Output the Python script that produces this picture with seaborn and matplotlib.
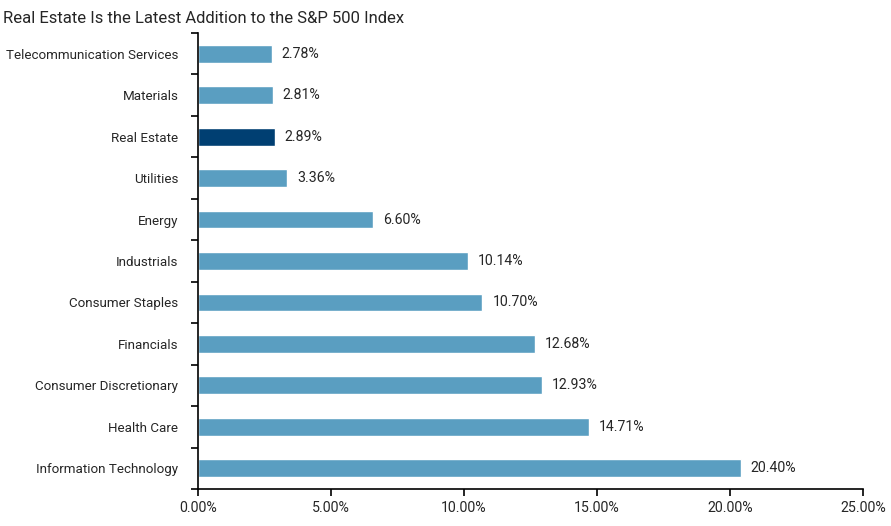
import numpy as np
import pandas as pd
import matplotlib
matplotlib.use("Agg")
import matplotlib.pyplot as plt
import seaborn as sns
from matplotlib.ticker import FixedLocator, PercentFormatter

sectors = ["Telecommunication Services", "Materials", "Real Estate", "Utilities",
           "Energy", "Industrials", "Consumer Staples", "Financials",
           "Consumer Discretionary", "Health Care", "Information Technology"]
weights = [2.78, 2.81, 2.89, 3.36, 6.60, 10.14, 10.70, 12.68, 12.93, 14.71, 20.40]
highlight = "Real Estate"

sns.set_style("white")
plt.rcParams['font.family'] = ['Roboto', 'DejaVu Sans']

df = pd.DataFrame({"Sector": sectors, "Weight": weights})
palette = {s: ("#003f72" if s == highlight else "#5a9ec1") for s in sectors}

fig = plt.figure(figsize=(8.91, 5.26), dpi=100)
ax = fig.add_axes([0.222, 0.0703, 0.7465, 0.867])

sns.barplot(data=df, y="Sector", x="Weight", hue="Sector", palette=palette,
            order=sectors, width=0.43, legend=False, ax=ax, saturation=1)

for i, v in enumerate(weights):
    ax.text(v + 0.38, i, f"{v:.2f}%", va="center", ha="left", fontsize=10.2)

ax.set_xlim(0, 25)
ax.set_ylim(len(sectors) - 0.5, -0.5)
ax.xaxis.set_major_formatter(PercentFormatter(decimals=2))
ax.set_xticks([0, 5, 10, 15, 20, 25])
ax.set_xlabel("")
ax.set_ylabel("")
ax.tick_params(axis="x", labelsize=10.2, length=5, width=1.2, direction="out", bottom=True, color="black")
ax.tick_params(axis="y", which="major", labelsize=9.6, length=0, pad=14)
ax.yaxis.set_minor_locator(FixedLocator(np.arange(-0.5, len(sectors), 1.0)))
ax.tick_params(axis="y", which="minor", length=5, width=1.2, direction="out", left=True, color="black")

sns.despine(ax=ax)
for side in ["left", "bottom"]:
    ax.spines[side].set_color("black")
    ax.spines[side].set_linewidth(1.2)

fig.text(0.003, 0.965, "Real Estate Is the Latest Addition to the S&P 500 Index",
         fontsize=12, ha="left", va="center")

fig.savefig("out.png", dpi=100)
